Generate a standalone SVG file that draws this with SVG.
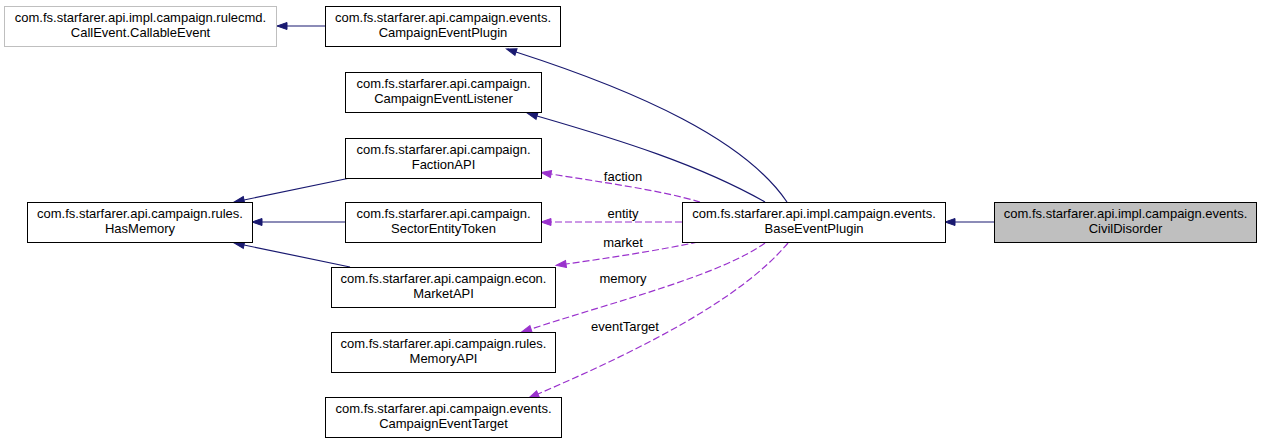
<svg xmlns="http://www.w3.org/2000/svg" width="1263" height="444" viewBox="0 0 1263 444">
<style>
.n rect{fill:#fff;stroke:#000;stroke-width:1}
.n text{font-family:"Liberation Sans",Arial,sans-serif;font-size:13px;fill:#000;text-anchor:middle}
.g rect{stroke:#bfbfbf}
.h rect{fill:#bfbfbf}
.e{fill:none;stroke:#191970;stroke-width:1.2}
.d{fill:none;stroke:#9a32cd;stroke-width:1.2;stroke-dasharray:7,3}
.l{font-family:"Liberation Sans",Arial,sans-serif;font-size:13px;fill:#000;text-anchor:middle}
</style>
<defs>
<marker id="an" markerUnits="userSpaceOnUse" markerWidth="11" markerHeight="8" refX="0" refY="3.5" orient="auto" overflow="visible"><path d="M0,0 L10,3.5 L0,7 z" fill="#191970" stroke="#191970"/></marker>
<marker id="ap" markerUnits="userSpaceOnUse" markerWidth="11" markerHeight="8" refX="0" refY="3.5" orient="auto" overflow="visible"><path d="M0,0 L10,3.5 L0,7 z" fill="#9a32cd" stroke="#9a32cd"/></marker>
</defs>
<rect width="1263" height="444" fill="#fff"/>
<g id="edges">
<path class="e" d="M325,26 L287,26" marker-end="url(#an)"/>
<path class="e" d="M787,202 C745,140 640,92 516,52" marker-end="url(#an)"/>
<path class="e" d="M765,202 C700,165 620,140 537,116" marker-end="url(#an)"/>
<path class="e" d="M350,178 L244,200" marker-end="url(#an)"/>
<path class="e" d="M345,222 L262,222" marker-end="url(#an)"/>
<path class="e" d="M350,267 L244,245" marker-end="url(#an)"/>
<path class="e" d="M994,222 L955,222" marker-end="url(#an)"/>
<path class="d" d="M700,202 C660,190 600,182 551,174" marker-end="url(#ap)"/>
<path class="d" d="M682,222 L551,222" marker-end="url(#ap)"/>
<path class="d" d="M698,242 C660,250 610,258 566,264" marker-end="url(#ap)"/>
<path class="d" d="M765,243 C720,275 620,300 531,329" marker-end="url(#ap)"/>
<path class="d" d="M788,243 C740,300 640,350 538,394" marker-end="url(#ap)"/>
<text class="l" x="623" y="181">faction</text>
<text class="l" x="623" y="218">entity</text>
<text class="l" x="623" y="247">market</text>
<text class="l" x="623" y="283">memory</text>
<text class="l" x="625" y="331">eventTarget</text>
</g>
<g id="CallableEvent" class="n g"><rect x="4.5" y="6.5" width="272" height="40"/><text x="140.5" y="22">com.fs.starfarer.api.impl.campaign.rulecmd.</text><text x="140.5" y="37">CallEvent.CallableEvent</text></g>
<g id="CampaignEventPlugin" class="n"><rect x="325.5" y="6.5" width="235" height="40"/><text x="443" y="22">com.fs.starfarer.api.campaign.events.</text><text x="443" y="37">CampaignEventPlugin</text></g>
<g id="CampaignEventListener" class="n"><rect x="345.5" y="72.5" width="196" height="40"/><text x="443.5" y="88">com.fs.starfarer.api.campaign.</text><text x="443.5" y="103">CampaignEventListener</text></g>
<g id="FactionAPI" class="n"><rect x="345.5" y="138.5" width="196" height="40"/><text x="443.5" y="154">com.fs.starfarer.api.campaign.</text><text x="443.5" y="169">FactionAPI</text></g>
<g id="HasMemory" class="n"><rect x="27.5" y="202.5" width="225" height="40"/><text x="140" y="218">com.fs.starfarer.api.campaign.rules.</text><text x="140" y="233">HasMemory</text></g>
<g id="SectorEntityToken" class="n"><rect x="345.5" y="202.5" width="196" height="40"/><text x="443.5" y="218">com.fs.starfarer.api.campaign.</text><text x="443.5" y="233">SectorEntityToken</text></g>
<g id="MarketAPI" class="n"><rect x="331.5" y="267.5" width="224" height="40"/><text x="443.5" y="283">com.fs.starfarer.api.campaign.econ.</text><text x="443.5" y="298">MarketAPI</text></g>
<g id="MemoryAPI" class="n"><rect x="331.5" y="332.5" width="224" height="40"/><text x="443.5" y="348">com.fs.starfarer.api.campaign.rules.</text><text x="443.5" y="363">MemoryAPI</text></g>
<g id="CampaignEventTarget" class="n"><rect x="325.5" y="397.5" width="236" height="40"/><text x="443.5" y="413">com.fs.starfarer.api.campaign.events.</text><text x="443.5" y="428">CampaignEventTarget</text></g>
<g id="BaseEventPlugin" class="n"><rect x="682.5" y="202.5" width="263" height="40"/><text x="814" y="218">com.fs.starfarer.api.impl.campaign.events.</text><text x="814" y="233">BaseEventPlugin</text></g>
<g id="CivilDisorder" class="n h"><rect x="994.5" y="202.5" width="262" height="40"/><text x="1125.5" y="218">com.fs.starfarer.api.impl.campaign.events.</text><text x="1125.5" y="233">CivilDisorder</text></g>
</svg>
